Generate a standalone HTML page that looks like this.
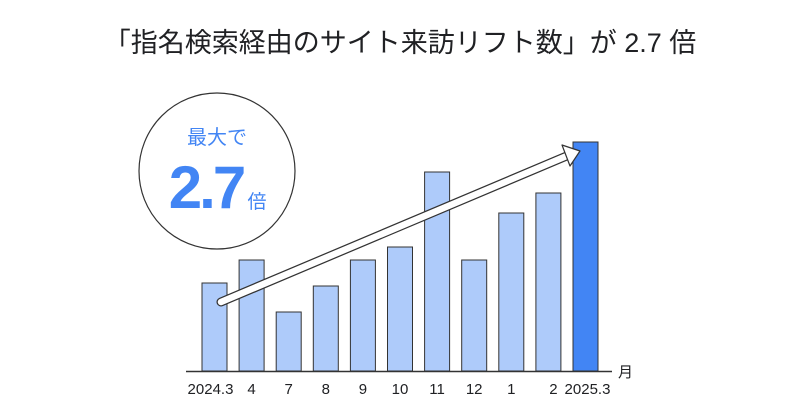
<!DOCTYPE html>
<html><head><meta charset="utf-8"><style>
body{margin:0;background:#fff;width:800px;height:418px;overflow:hidden}
svg{display:block}
text{font-family:"Liberation Sans","Noto Sans CJK JP",sans-serif}
</style></head><body>
<svg id="c" width="800" height="418">
<text x="400" y="52" text-anchor="middle" font-size="27" fill="#202124">「指名検索経由のサイト来訪リフト数」が 2.7 倍</text>
<g>
<circle cx="217" cy="171" r="78" fill="#fff" stroke="#333" stroke-width="1.2"/>
<text x="217" y="144" text-anchor="middle" font-size="20" fill="#4285f4">最大で</text>
<text x="206" y="208" text-anchor="middle" font-size="60" font-weight="bold" fill="#4285f4" letter-spacing="-3">2.7</text>
<text x="257" y="208" text-anchor="middle" font-size="19" fill="#4285f4">倍</text>
</g>
<g id="bars"></g>
<g id="labels"></g>
<line x1="186" y1="371.5" x2="612" y2="371.5" stroke="#333" stroke-width="1.5"/>
<text x="618" y="377" font-size="15" fill="#202124">月</text>
<g>
<path d="M221,302 L569,155" stroke="#333" stroke-width="9" stroke-linecap="round" fill="none"/>
<path d="M221,302 L569,155" stroke="#fff" stroke-width="6.5" stroke-linecap="round" fill="none"/>
<path d="M562,145 L580,151 L570,166 Z" fill="#fff" stroke="#333" stroke-width="1.2" stroke-linejoin="round"/>
</g>
</svg>
<script>
const categories=["2024.3","4","7","8","9","10","11","12","1","2","2025.3"];
const values=[88,111,59,85,111,124,199,111,158,178,229];
const highlight=[false,false,false,false,false,false,false,false,false,false,true];
const ns="http://www.w3.org/2000/svg";
const baseY=371,x0=202,pitch=37.1,bw=25,yScale=1;
function xPos(i){return x0+i*pitch;}
function yPos(v){return baseY-v*yScale;}
const gb=document.getElementById('bars'),gl=document.getElementById('labels');
categories.forEach((c,i)=>{
 const r=document.createElementNS(ns,'rect');
 r.setAttribute('x',xPos(i));r.setAttribute('y',yPos(values[i]));
 r.setAttribute('width',bw);r.setAttribute('height',baseY-yPos(values[i]));
 r.setAttribute('fill',highlight[i]?'#4285f4':'#aecbfa');
 r.setAttribute('stroke','#333');r.setAttribute('stroke-width','1');
 
 
 gb.appendChild(r);
 const t=document.createElementNS(ns,'text');
 let tx=xPos(i)+bw/2;
 if(i===0)tx-=4; if(i===9)tx+=5; if(i===10)tx+=2;
 t.setAttribute('x',tx);t.setAttribute('y',394);
 t.setAttribute('text-anchor','middle');t.setAttribute('font-size','15');t.setAttribute('fill','#202124');
 t.textContent=c;
 
 
 gl.appendChild(t);
});
</script>
</body></html>
